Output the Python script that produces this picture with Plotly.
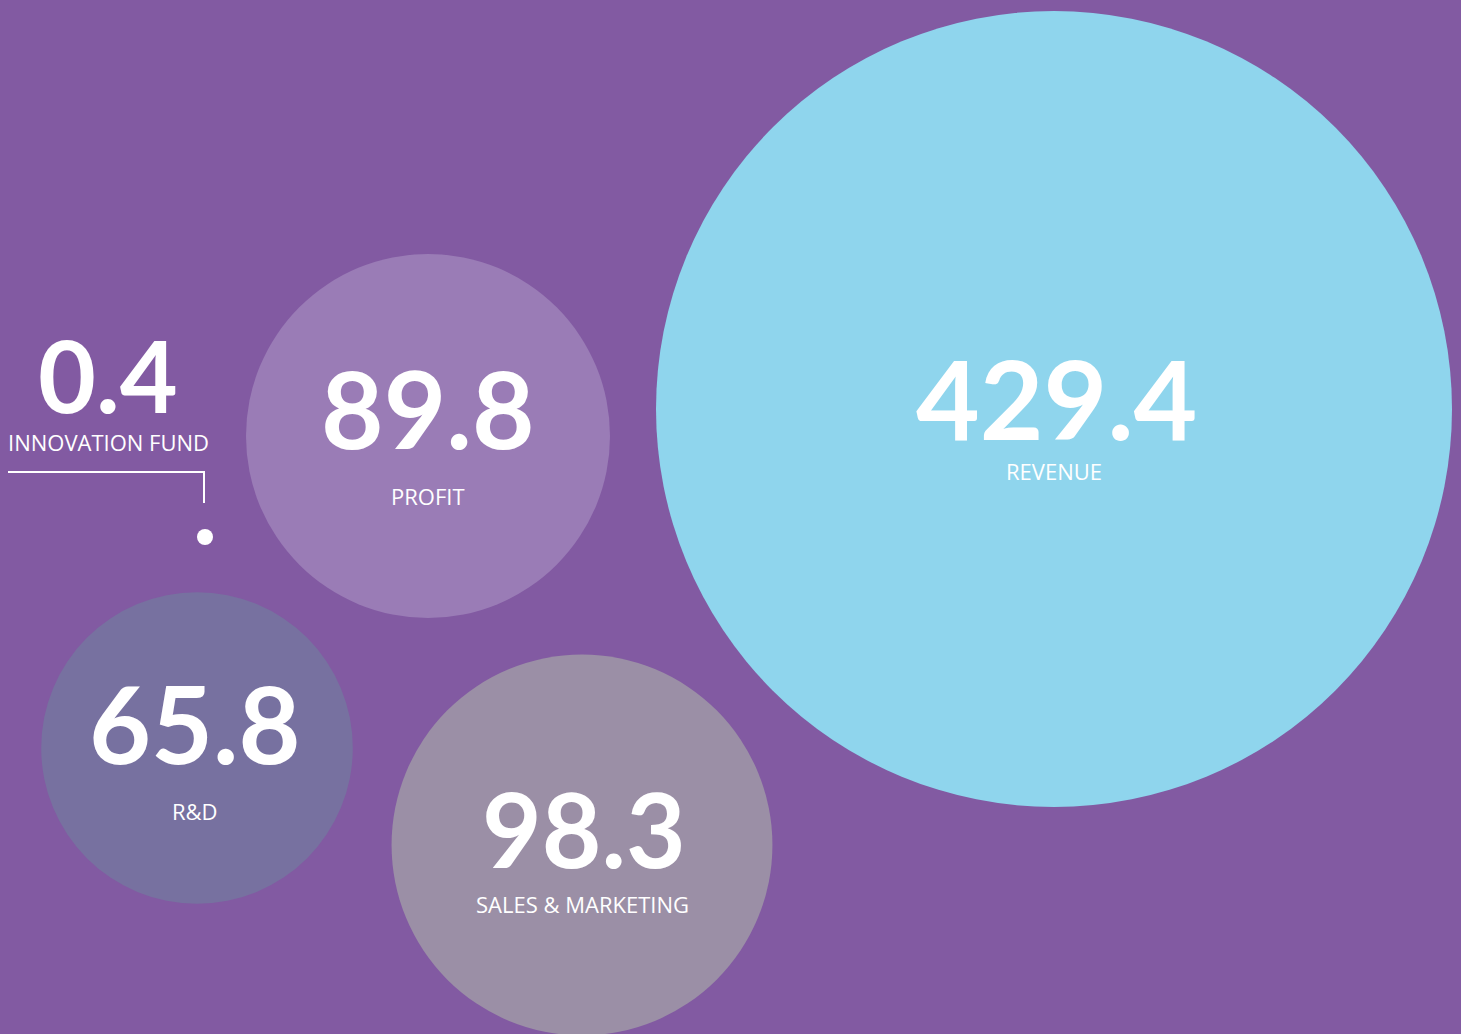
import plotly.graph_objects as go

# ---- data ----
categories = ["REVENUE", "PROFIT", "R&D", "SALES & MARKETING", "INNOVATION FUND"]
values = [429.4, 89.8, 65.8, 98.3, 0.4]
value_labels = ["429.4", "89.8", "65.8", "98.3", "0.4"]

# ---- layout (pixel positions of bubble centres) ----
cx = [1054, 428, 197, 582]
cy = [409, 436, 748, 845]
colors = ["#8FD5ED", "#9A7CB6", "#7771A0", "#9B8FA6"]

W, H = 1461, 1034
BG = "#825AA2"

max_diam = 796
sizeref = 2.0 * max(values) / max_diam ** 2

fig = go.Figure()
fig.add_trace(go.Scatter(
    x=cx, y=cy, mode="markers",
    marker=dict(size=values[:4], sizemode="area", sizeref=sizeref,
                color=colors, line=dict(width=0), opacity=1),
    hoverinfo="text", text=categories[:4],
))

# innovation fund dot and connector
fig.add_trace(go.Scatter(
    x=[8, 204, 204], y=[472, 472, 503], mode="lines",
    line=dict(color="white", width=2), hoverinfo="skip",
))
fig.add_trace(go.Scatter(
    x=[205], y=[537], mode="markers",
    marker=dict(size=16, color="white", line=dict(width=0)),
    hoverinfo="text", text=[categories[4]],
))

num_pos = [(1056, 396, 110), (428, 406, 108), (195, 722, 107), (584, 828, 103), (108, 374, 100)]
lab_pos = [(1054, 471), (428, 496), (195, 811), (582, 904), (108, 442)]

annotations = []
for i in range(5):
    x, y, s = num_pos[i]
    annotations.append(dict(
        x=x, y=y, xref="x", yref="y", text=value_labels[i], showarrow=False,
        font=dict(family="Lato", size=s, color="white", weight="bold"),
        height=int(s * 0.9), valign="middle",
        xanchor="center", yanchor="middle"))
    lx, ly = lab_pos[i]
    annotations.append(dict(
        x=lx, y=ly, xref="x", yref="y", text=categories[i], showarrow=False,
        font=dict(family="Open Sans", size=22, color="white"),
        xanchor="center", yanchor="middle"))

fig.update_layout(
    width=W, height=H,
    margin=dict(l=0, r=0, t=0, b=0),
    paper_bgcolor=BG, plot_bgcolor=BG,
    showlegend=False,
    xaxis=dict(range=[0, W], visible=False, fixedrange=True),
    yaxis=dict(range=[H, 0], visible=False, fixedrange=True),
    annotations=annotations,
)

fig.write_html("out.html", config={"displayModeBar": False},
               post_script="document.body.style.margin='0';document.body.style.overflow='hidden';")
